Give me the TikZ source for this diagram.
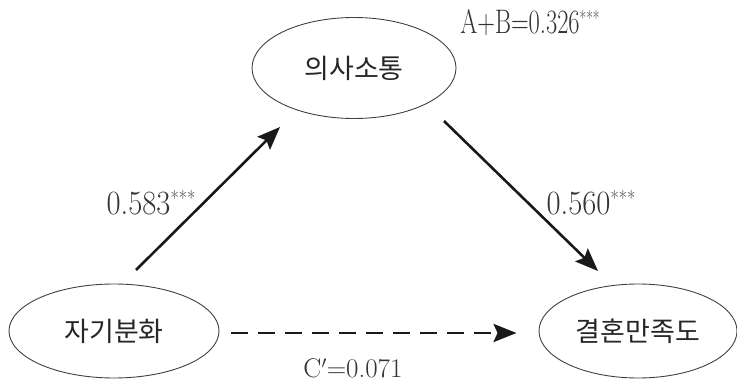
\documentclass[tikz,border=0pt]{standalone}
\usepackage{fontspec}
\newfontfamily\kr{Noto Sans CJK KR}
\usetikzlibrary{shapes.geometric,arrows.meta}
\newcommand{\stars}{\raisebox{0.25em}{\fontsize{20}{20}\selectfont ***}}
\begin{document}
\begin{tikzpicture}[x=1pt,y=-1pt,
  var/.style={ellipse,draw=black!75,line width=0.9pt,inner sep=0pt,font=\kr\fontsize{27}{30}\selectfont,text=black!85},
  path/.style={line width=2.6pt,draw=black!90,-{Stealth[length=23pt,width=18pt,inset=4pt]}},
  dpath/.style={path,line width=2.8pt,dash pattern=on 17pt off 10pt},
  lab/.style={inner sep=0pt,text=black!80,font=\fontsize{34}{36}\selectfont,xscale=0.9,transform shape},
  labs/.style={inner sep=0pt,text=black!80,font=\fontsize{27}{28}\selectfont}
]
\useasboundingbox (0,0) rectangle (737,382);
\node[var,minimum width=204pt,minimum height=101pt] (uisa) at (354,68) {의사소통};
\node[var,minimum width=210pt,minimum height=94pt] (zagi) at (114,331) {자기분화};
\node[var,minimum width=198pt,minimum height=94pt] (gyeol) at (638,331) {결혼만족도};
\coordinate (as) at (136,270);
\coordinate (ae) at (280,127);
\coordinate (bs) at (444,121);
\coordinate (be) at (598,271);
\draw[path] (as) -- (ae);
\draw[path] (bs) -- (be);
\draw[dpath] ([xshift=12pt,yshift=-2pt]zagi.east) -- ([xshift=-22pt,yshift=-2pt]gyeol.west);
\node[lab] (lab1) at (151,203) {0.583\stars};
\node[lab] (lab2) at (591,203) {0.560\stars};
\node[lab,xscale=0.8] (lab3) at (530,23) {A+B=0.326\stars};
\node[labs] (lab4) at (353,368) {C$'$=0.071};
\end{tikzpicture}
\end{document}
